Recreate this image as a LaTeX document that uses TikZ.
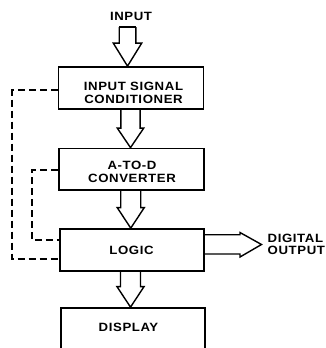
\documentclass[tikz,border=0pt]{standalone}
\usepackage{fontspec}
\setmainfont{Liberation Sans}[FakeStretch=1.1, LetterSpace=5]
\usetikzlibrary{calc}
\newcommand\vblock[5]{% #1 top center, #2 tip, #3 shaft half, #4 head half, #5 head length
  \draw[blk] ($(#1)+(-#3,0)$) -- ($(#2)+(-#3,-#5)$) -- ($(#2)+(-#4,-#5)$) -- (#2)
    -- ($(#2)+(#4,-#5)$) -- ($(#2)+(#3,-#5)$) -- ($(#1)+(#3,0)$);}
\begin{document}
\begin{tikzpicture}[x=1pt,y=-1pt,
  box/.style={draw, line width=1.7pt, minimum width=145pt, minimum height=42pt, inner sep=0pt},
  lbl/.style={font=\bfseries\fontsize{12}{12.8}\selectfont, align=center, inner sep=0pt},
  blk/.style={draw, line width=1.4pt, line join=miter},
  dsh/.style={draw, line width=1.7pt, dash pattern=on 7pt off 4pt}]
\useasboundingbox (0,0) rectangle (326,348);
\fill[white] (0,0) rectangle (326,348);
% boxes
\node[box] (b1) at (131,88) {};
\node[box, minimum height=41.5pt] (b2) at (131.25,169.25) {};
\node[box, minimum width=144pt] (logic) at (132,250) {};
\node[box, minimum width=144pt, minimum height=44pt] (disp) at (133,330) {};
% texts
\node[lbl] (tin) at (131,16.7) {INPUT};
\node[lbl] (t1) at (133.5,93) {INPUT SIGNAL\\CONDITIONER};
\node[lbl] (t2) at (132,172) {A-TO-D\\CONVERTER};
\node[lbl] (t3) at (131.5,250) {LOGIC};
\node[lbl] (t4) at (128.5,327.5) {DISPLAY};
\node[lbl, align=left, anchor=west] (tout) at (267.5,244.4) {DIGITAL\\OUTPUT};
% input arrow
\coordinate (inTop) at (127.5,27);
\coordinate (inTip) at (b1.north -| inTop);
\draw[blk] ($(inTop)+(-8.3,0)$) -- ($(inTop)+(8.3,0)$);
\vblock{inTop}{inTip}{8.3}{14.2}{23}
% arrows between boxes
\coordinate (a1) at ($(b1.south)+(-0.5,0)$);
\coordinate (a1t) at (b2.north -| a1);
\vblock{a1}{a1t}{9.6}{13.2}{19.5}
\coordinate (a2) at ($(b2.south)+(-0.5,0)$);
\coordinate (a2t) at (logic.north -| a2);
\vblock{a2}{a2t}{10}{13.5}{20.5}
\coordinate (a3) at ($(logic.south)+(-1.5,0)$);
\coordinate (a3t) at (disp.north -| a3);
\vblock{a3}{a3t}{10}{13.5}{20.5}
% digital output arrow
\coordinate (o1) at ($(logic.east)+(0,-5.5)$);
\coordinate (o2) at (261.5,244.5);
\draw[blk] ($(o1)+(0,-9.8)$) -- ($(o2)+(-21.5,-9.8)$) -- ($(o2)+(-21.5,-12)$) -- (o2)
  -- ($(o2)+(-21.5,12.5)$) -- ($(o2)+(-21.5,9.5)$) -- ($(o1)+(0,9.5)$);
% dashed feedback lines
\draw[dsh] ($(b1.west)+(0,2)$) -- ++(-45.5,0) |- ($(logic.west)+(0,9)$);
\draw[dsh] ($(b2.west)+(0,1)$) -- (31.7,170.25) |- ($(logic.west)+(0,-10)$);
\end{tikzpicture}
\end{document}
